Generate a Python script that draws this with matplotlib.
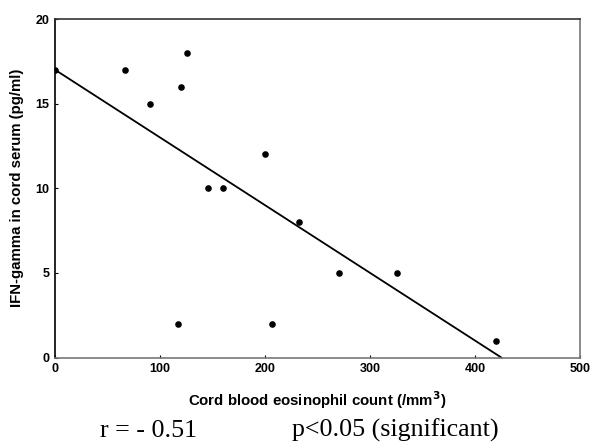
import numpy as np
import matplotlib.pyplot as plt

# cord blood eosinophils vs IFN-gamma
eos = [0, 67, 90, 126, 120, 200, 146, 160, 117, 207, 232, 270, 326, 420]
ifn = [17, 17, 15, 18, 16, 12, 10, 10, 2, 2, 8, 5, 5, 1]

# regression line end points (as drawn)
fit_x = [0, 425]
fit_y = [17, 0]

xticks = [0, 100, 200, 300, 400, 500]
yticks = [0, 5, 10, 15, 20]

plt.rcParams['font.family'] = ['Liberation Sans', 'DejaVu Sans']

fig = plt.figure(figsize=(5.92, 4.42), dpi=100)
ax = fig.add_axes([0.093, 0.191, 0.887, 0.766])

ax.plot(fit_x, fit_y, color='black', lw=1.3, clip_on=False)
ax.scatter(eos, ifn, s=14, color='black', zorder=3, clip_on=True)

ax.set_xlim(0, 500)
ax.set_ylim(0, 20)
ax.set_xticks(xticks)
ax.set_yticks(yticks)
ax.tick_params(direction='in', length=2, width=0.8, labelsize=9, pad=4)
for lab in ax.get_xticklabels() + ax.get_yticklabels():
	lab.set_fontweight('bold')

ax.spines['left'].set_color('black')
ax.spines['top'].set_color('#333333')
ax.spines['bottom'].set_color('#777777')
ax.spines['right'].set_color('#777777')
for s in ax.spines.values():
	s.set_linewidth(1.2)

ax.set_xlabel('Cord blood eosinophil count (/mm$^\\mathbf{3}$)', fontsize=10.8, fontweight='bold', labelpad=10)
ax.set_ylabel('IFN-gamma in cord serum (pg/ml)', fontsize=10.8, fontweight='bold', labelpad=8)

fig.text(0.169, 0.012, 'r = - 0.51', family='Liberation Serif', fontsize=18.7)
fig.text(0.493, 0.012, 'p<0.05 (significant)', family='Liberation Serif', fontsize=18.7)

fig.savefig('out.png', dpi=100)
